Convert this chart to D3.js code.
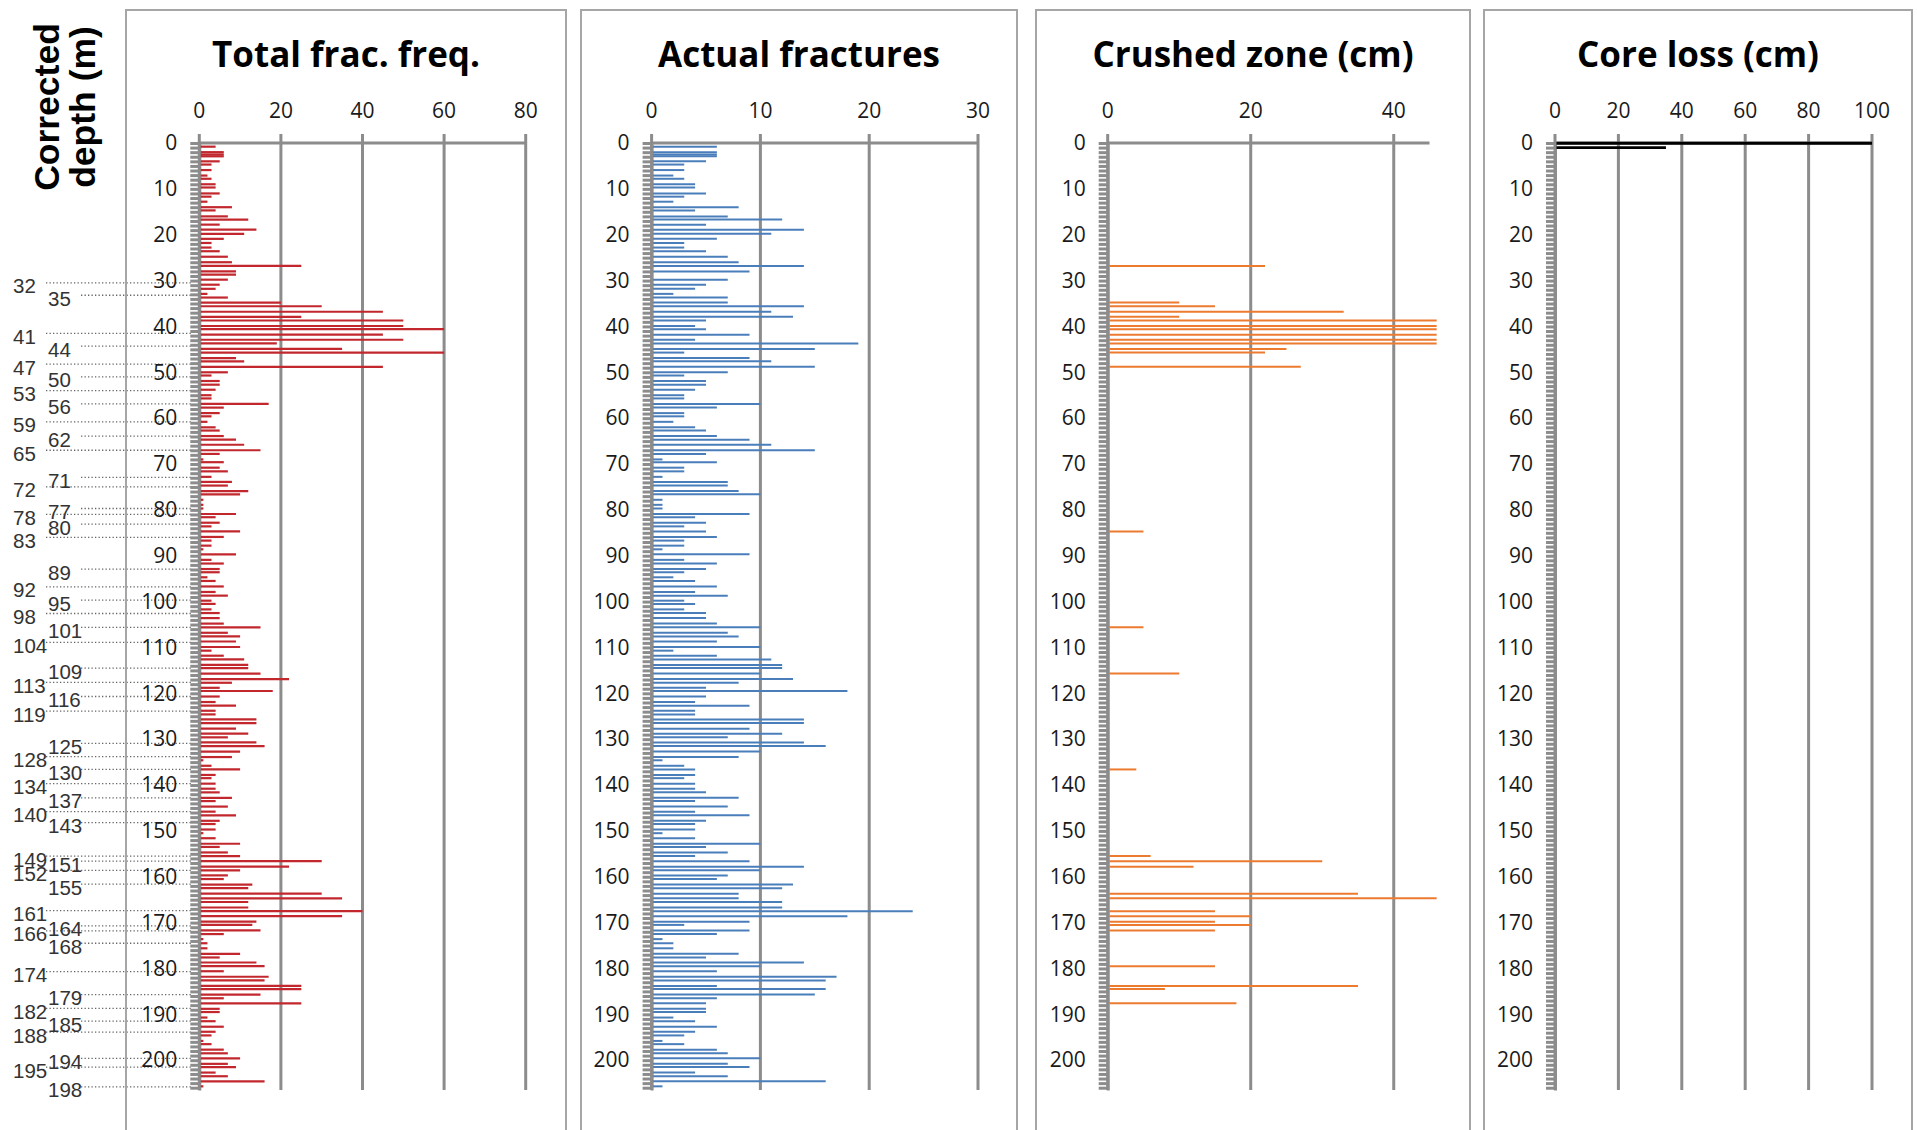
<!DOCTYPE html>
<html>
<head>
<meta charset="utf-8">
<script src="https://cdn.jsdelivr.net/npm/d3@7"></script>
<style>
  body { margin: 0; background: #fff; }
  svg text { font-family: "Open Sans", sans-serif; }
</style>
</head>
<body>
<div id="chart"></div>
<script>
// corrected depth (m) of each logged interval, shared by the first panels
const depths = [0.8,2.0,2.5,2.9,4.0,4.7,5.9,7.1,7.8,9.0,9.7,11.0,11.7,12.8,14.0,14.7,16.0,16.7,17.8,18.9,
  19.8,20.9,21.8,22.8,23.6,24.8,26.0,26.8,28.0,28.7,29.8,30.9,31.8,32.9,33.7,34.8,35.6,36.8,37.9,38.7,
  39.9,40.6,41.8,42.9,43.7,44.9,45.7,46.9,47.6,48.8,50.0,50.7,51.9,52.7,53.8,55.0,55.7,56.9,57.7,58.9,
  59.6,60.8,62.0,62.7,63.9,64.7,65.8,67.0,67.8,69.0,69.6,70.8,71.6,72.8,73.9,74.7,75.9,76.6,77.8,78.9,
  79.7,80.9,81.6,82.8,83.6,84.7,85.9,86.7,87.8,88.6,89.7,90.9,91.7,92.9,93.6,94.7,95.5,96.7,97.9,98.7,
  99.8,100.5,101.7,102.5,103.6,104.8,105.6,106.8,107.6,108.7,109.9,110.7,111.8,112.6,113.8,114.5,115.7,116.9,117.7,118.8,
  119.5,120.7,121.9,122.7,123.8,124.6,125.7,126.5,127.7,128.8,129.6,130.7,131.5,132.7,133.9,134.6,135.8,136.6,137.8,138.5,
  139.7,140.8,141.6,142.8,143.5,144.7,145.8,146.6,147.8,148.5,149.7,150.5,151.6,152.8,153.5,154.7,155.5,156.6,157.8,158.6,
  159.7,160.5,161.7,162.5,163.7,164.7,165.5,166.7,167.5,168.6,169.8,170.5,171.7,172.5,173.6,174.5,175.6,176.8,177.6,178.7,
  179.5,180.6,181.8,182.6,183.8,184.5,185.7,186.5,187.6,188.8,189.5,190.7,191.5,192.7,193.8,194.6,195.8,196.5,197.7,198.5,
  199.6,200.8,201.5,202.7,203.5,204.6,205.7];

const totalFreq = [4,6,6,6,5,3,3,2,3,4,4,5,3,2,8,4,7,12,5,14,
  11,6,3,3,5,7,8,25,9,9,7,5,4,2,7,20,30,45,25,50,
  50,60,45,50,19,35,60,9,11,45,7,3,5,5,4,3,3,17,6,5,
  3,2,4,5,6,9,11,15,5,1,6,5,7,3,8,7,12,10,1,1,
  1,9,4,5,3,10,6,3,3,1,9,3,6,5,5,2,4,6,4,7,
  3,4,3,5,5,6,15,7,10,9,10,3,6,11,12,12,15,22,8,5,
  18,5,4,9,4,4,14,14,9,12,7,14,16,10,8,1,3,10,4,3,
  4,4,5,8,4,7,4,9,5,4,4,1,4,10,5,7,10,30,22,10,
  7,6,13,12,30,35,12,12,40,35,14,13,15,6,1,2,2,10,5,14,
  16,6,17,16,25,25,15,6,25,5,5,2,4,6,4,3,1,3,6,7,
  10,7,9,4,7,16,1];

const actualFrac = [6,6,6,6,5,3,3,2,3,4,4,5,3,2,8,4,7,12,5,14,
  11,6,3,3,5,7,8,14,9,0,7,5,4,2,7,7,14,11,13,5,
  4,5,9,4,19,15,3,9,11,15,7,3,5,5,4,3,3,10,6,3,
  3,2,4,5,6,9,11,15,5,1,6,3,3,1,7,7,8,10,1,1,
  1,9,4,5,3,5,6,3,3,1,9,3,6,5,3,2,4,6,4,7,
  3,4,3,5,5,6,10,7,8,6,10,2,6,11,12,12,10,13,8,5,
  18,5,4,9,4,4,14,14,9,12,7,14,16,10,8,1,3,4,4,3,
  4,4,5,8,4,7,4,9,5,4,4,1,4,10,5,7,4,9,14,10,
  7,6,13,12,8,8,12,12,24,18,9,3,9,6,1,2,2,8,5,14,
  10,6,17,16,6,16,15,6,5,5,5,2,4,6,4,3,1,3,6,7,
  10,7,9,4,7,16,1];

const crushedDepths = [26.8,34.8,35.6,36.8,37.9,38.7,39.9,40.6,41.8,42.9,43.7,44.9,45.7,48.8,84.7,105.6,
  115.7,136.6,155.5,156.6,157.8,163.7,164.7,167.5,168.6,169.8,170.5,171.7,179.5,183.8,184.5,187.6];
const crushedCm = [22,10,15,33,10,46,46,46,46,46,46,25,22,27,5,5,
  10,4,6,30,12,35,46,15,20,15,20,15,15,35,8,18];

const coreLossDepths = [0.05, 1.0];
const coreLossCm = [100, 35];

// uncorrected depth marks shown left of the first panel, at their corrected depth
const markDepths = [30.5,33.2,41.5,44.3,48.2,51.0,54.0,56.9,60.8,63.9,67.0,72.9,75.0,79.7,81.0,83.1,86.0,92.9,96.8,99.7,
  102.6,105.6,108.9,114.5,117.6,120.7,123.9,130.9,133.8,136.6,139.7,142.8,145.8,148.2,155.5,156.6,158.6,161.6,167.4,170.7,
  171.8,174.5,180.7,185.7,188.7,191.5,193.9,199.6,201.5,205.8];
const markLabels = ["32","35","41","44","47","50","53","56","59","62","65","71","72","77","78","80","83","89","92","95",
  "98","101","104","109","113","116","119","125","128","130","134","137","140","143","149","151","152","155","161","164",
  "166","168","174","179","182","185","188","194","195","198"];

const depthTicks = d3.range(0, 201, 10);

const W = 1917, H = 1130;
const gridColor = "#8c8c8c";

const svg = d3.select("#chart").append("svg")
    .attr("width", W)
    .attr("height", H);

const y = d3.scaleLinear().domain([0, 206.5]).range([143, 1090]);

const panels = [
  { title: "Total frac. freq.", left: 126, right: 566, range: [199.3, 525.7], domain: [0, 80],
    ticks: [0, 20, 40, 60, 80], rows: d3.zip(depths, totalFreq), color: "#c1272d", sw: 2.2 },
  { title: "Actual fractures", left: 581, right: 1017, range: [651.6, 978], domain: [0, 30],
    ticks: [0, 10, 20, 30], rows: d3.zip(depths, actualFrac), color: "#4a7ebb", sw: 2 },
  { title: "Crushed zone (cm)", left: 1036, right: 1470, range: [1107.7, 1429.5], domain: [0, 45],
    ticks: [0, 20, 40], rows: d3.zip(crushedDepths, crushedCm), color: "#ec7b30", sw: 2 },
  { title: "Core loss (cm)", left: 1484, right: 1912, range: [1555, 1872], domain: [0, 100],
    ticks: [0, 20, 40, 60, 80, 100], rows: d3.zip(coreLossDepths, coreLossCm), color: "#000", sw: 2.8 }
];

// dotted leaders for the uncorrected depth marks
const marks = svg.append("g").attr("class", "marks");
marks.selectAll("line")
    .data(d3.zip(markDepths, markLabels))
    .enter().append("line")
    .attr("x1", (d, i) => i % 2 ? 81 : 46)
    .attr("x2", 193)
    .attr("y1", d => y(d[0]))
    .attr("y2", d => y(d[0]))
    .attr("stroke", "#666")
    .attr("stroke-width", 1.3)
    .attr("stroke-dasharray", "1.3,2.2");

marks.selectAll("text")
    .data(d3.zip(markDepths, markLabels))
    .enter().append("text")
    .attr("x", (d, i) => i % 2 ? 48 : 13)
    .attr("y", d => y(d[0]) + 3)
    .attr("dominant-baseline", "central")
    .style("font-family", "'Liberation Sans', Arial, sans-serif")
    .style("font-size", "20.5px")
    .attr("fill", "#333")
    .text(d => d[1]);

// rotated depth title
svg.append("text")
    .attr("transform", "translate(59,107) rotate(-90)")
    .attr("text-anchor", "middle")
    .style("font-family", "'Liberation Sans', Arial, sans-serif")
    .style("font-size", "35.5px")
    .style("font-weight", "bold")
    .text("Corrected");
svg.append("text")
    .attr("transform", "translate(95,107) rotate(-90)")
    .attr("text-anchor", "middle")
    .style("font-family", "'Liberation Sans', Arial, sans-serif")
    .style("font-size", "35.5px")
    .style("font-weight", "bold")
    .text("depth (m)");

panels.forEach(p => {
    const g = svg.append("g");
    const x = d3.scaleLinear().domain(p.domain).range(p.range);
    const yEnd = y.domain()[1];

    // frame
    g.append("rect")
        .attr("x", p.left)
        .attr("y", 10)
        .attr("width", p.right - p.left)
        .attr("height", H + 20)
        .attr("fill", "none")
        .attr("stroke", "#a6a6a6")
        .attr("stroke-width", 2);

    g.append("text")
        .attr("x", (p.left + p.right) / 2)
        .attr("y", 67)
        .attr("text-anchor", "middle")
        .style("font-size", "35px")
        .style("font-weight", "bold")
        .attr("fill", "#000")
        .text(p.title);

    // vertical gridlines
    g.selectAll(".grid")
        .data(p.ticks)
        .enter().append("line")
        .attr("class", "grid")
        .attr("x1", d => x(d))
        .attr("x2", d => x(d))
        .attr("y1", y(0) - 9)
        .attr("y2", y(yEnd))
        .attr("stroke", gridColor)
        .attr("stroke-width", 3);

    // top value axis line
    g.append("line")
        .attr("x1", x(0))
        .attr("x2", x(p.domain[1]))
        .attr("y1", y(0))
        .attr("y2", y(0))
        .attr("stroke", gridColor)
        .attr("stroke-width", 3);

    g.selectAll(".xlab")
        .data(p.ticks)
        .enter().append("text")
        .attr("class", "xlab")
        .attr("x", d => x(d))
        .attr("y", 118)
        .attr("text-anchor", "middle")
        .style("font-size", "21px")
        .attr("fill", "#1a1a1a")
        .text(d => d);

    // depth ruler with minor ticks every metre
    const ruler = d3.axisLeft(y)
        .tickValues(d3.range(0, 207, 1))
        .tickSize(9)
        .tickSizeOuter(0)
        .tickFormat("");
    const rg = g.append("g")
        .attr("transform", "translate(" + x(0) + ",0)")
        .call(ruler);
    rg.select(".domain").attr("stroke", gridColor).attr("stroke-width", 3);
    rg.selectAll(".tick line").attr("stroke", gridColor).attr("stroke-width", 3);

    const yAxis = d3.axisLeft(y)
        .tickValues(depthTicks)
        .tickSize(0)
        .tickPadding(22);
    const ya = g.append("g")
        .attr("transform", "translate(" + x(0) + ",0)")
        .call(yAxis);
    ya.select(".domain").remove();
    ya.selectAll("text")
        .style("font-family", "'Open Sans', sans-serif")
        .style("font-size", "21px")
        .attr("fill", "#1a1a1a");

    // bars
    g.selectAll(".bar")
        .data(p.rows.filter(d => d[1] > 0))
        .enter().append("line")
        .attr("class", "bar")
        .attr("x1", x(0) + 1.5)
        .attr("x2", d => x(d[1]))
        .attr("y1", d => y(d[0]))
        .attr("y2", d => y(d[0]))
        .attr("stroke", p.color)
        .attr("stroke-width", p.sw);
});
</script>
</body>
</html>
